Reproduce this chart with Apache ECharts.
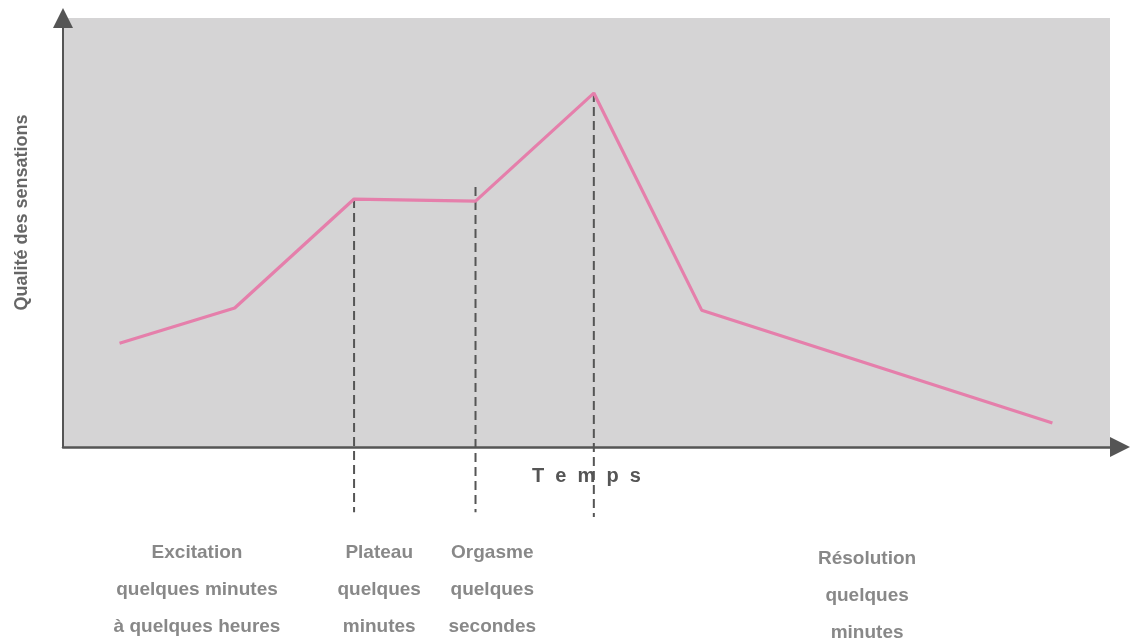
<!DOCTYPE html>
<html>
<head>
<meta charset="utf-8">
<script src="https://cdn.jsdelivr.net/npm/echarts@6/dist/echarts.min.js"></script>
<style>
html,body{margin:0;padding:0;background:#fff;}
#c{width:1132px;height:644px;}
</style>
</head>
<body>
<div id="c"></div>
<script>
// Courbe des sensations (temps en unités relatives, qualité en unités relatives)
var curveX = [5.4, 16.4, 27.8, 39.4, 50.7, 61.0, 94.5];
var curveY = [24.2, 32.4, 57.8, 57.3, 82.5, 31.9, 5.6];

// Limites de phases (lignes pointillées)
var dashX = [27.8, 39.4, 50.7];
var dashTop = [57.8, 60.6, 82.5];
var dashBottom = [-15.2, -15.2, -16.3];

// Étiquettes des phases
var phaseNames = ['Excitation', 'Plateau', 'Orgasme', 'Résolution'];
var phaseDurations = ['quelques minutes\nà quelques heures', 'quelques\nminutes', 'quelques\nsecondes', 'quelques\nminutes'];
var phaseX = [12.8, 30.2, 41.0, 76.8];
var phaseY = [-33.3, -33.3, -33.3, -34.7];

var yAxisName = 'Qualité des sensations';
var xAxisName = 'T  e  m  p  s';

var series = [];
series.push({
  type: 'line',
  data: curveX.map(function (x, i) { return [x, curveY[i]]; }),
  symbol: 'none',
  lineStyle: { color: '#e57fab', width: 3.2 },
  z: 5
});
dashX.forEach(function (x, i) {
  series.push({
    type: 'line',
    data: [[x, dashTop[i]], [x, dashBottom[i]]],
    symbol: 'none',
    clip: false,
    lineStyle: { color: '#555', width: 2, type: [9, 5] },
    z: 4
  });
});
series.push({
  type: 'scatter',
  symbolSize: 0,
  clip: false,
  data: phaseX.map(function (x, i) { return [x, phaseY[i]]; }),
  label: {
    show: true,
    position: 'inside',
    formatter: function (p) { return phaseNames[p.dataIndex] + '\n' + phaseDurations[p.dataIndex]; },
    color: '#6a6a6a',
    fontFamily: 'Liberation Sans, Arial, sans-serif',
    fontWeight: 'bold',
    fontSize: 19,
    lineHeight: 37,
    align: 'center',
    verticalAlign: 'middle'
  }
});

var chart = echarts.init(document.getElementById('c'), null, { renderer: 'canvas' });
chart.setOption({
  animation: false,
  backgroundColor: '#ffffff',
  grid: {
    left: 63, right: 22, top: 18, bottom: 197,
    show: true, backgroundColor: '#d5d4d5', borderWidth: 0
  },
  xAxis: {
    type: 'value', min: 0, max: 100,
    name: xAxisName,
    nameLocation: 'middle',
    nameGap: 19,
    nameTextStyle: { color: '#555', fontWeight: 'bold', fontSize: 20, fontFamily: 'Liberation Sans, Arial, sans-serif' },
    axisLine: { show: true, onZero: false, symbol: ['none', 'triangle'], symbolSize: [20, 20], symbolOffset: [0, 10], lineStyle: { color: '#555', width: 2.5 } },
    axisTick: { show: false }, axisLabel: { show: false }, splitLine: { show: false }
  },
  yAxis: {
    type: 'value', min: 0, max: 100,
    name: yAxisName,
    nameLocation: 'middle',
    nameRotate: 90,
    nameGap: 32,
    nameTextStyle: { color: '#666', fontWeight: 'bold', fontSize: 18, fontFamily: 'Liberation Sans, Arial, sans-serif', padding: [0, 0, 0, 40] },
    axisLine: { show: true, onZero: false, symbol: ['none', 'triangle'], symbolSize: [20, 20], symbolOffset: [0, 0], lineStyle: { color: '#555', width: 2 } },
    axisTick: { show: false }, axisLabel: { show: false }, splitLine: { show: false }
  },
  series: series
});
</script>
</body>
</html>
